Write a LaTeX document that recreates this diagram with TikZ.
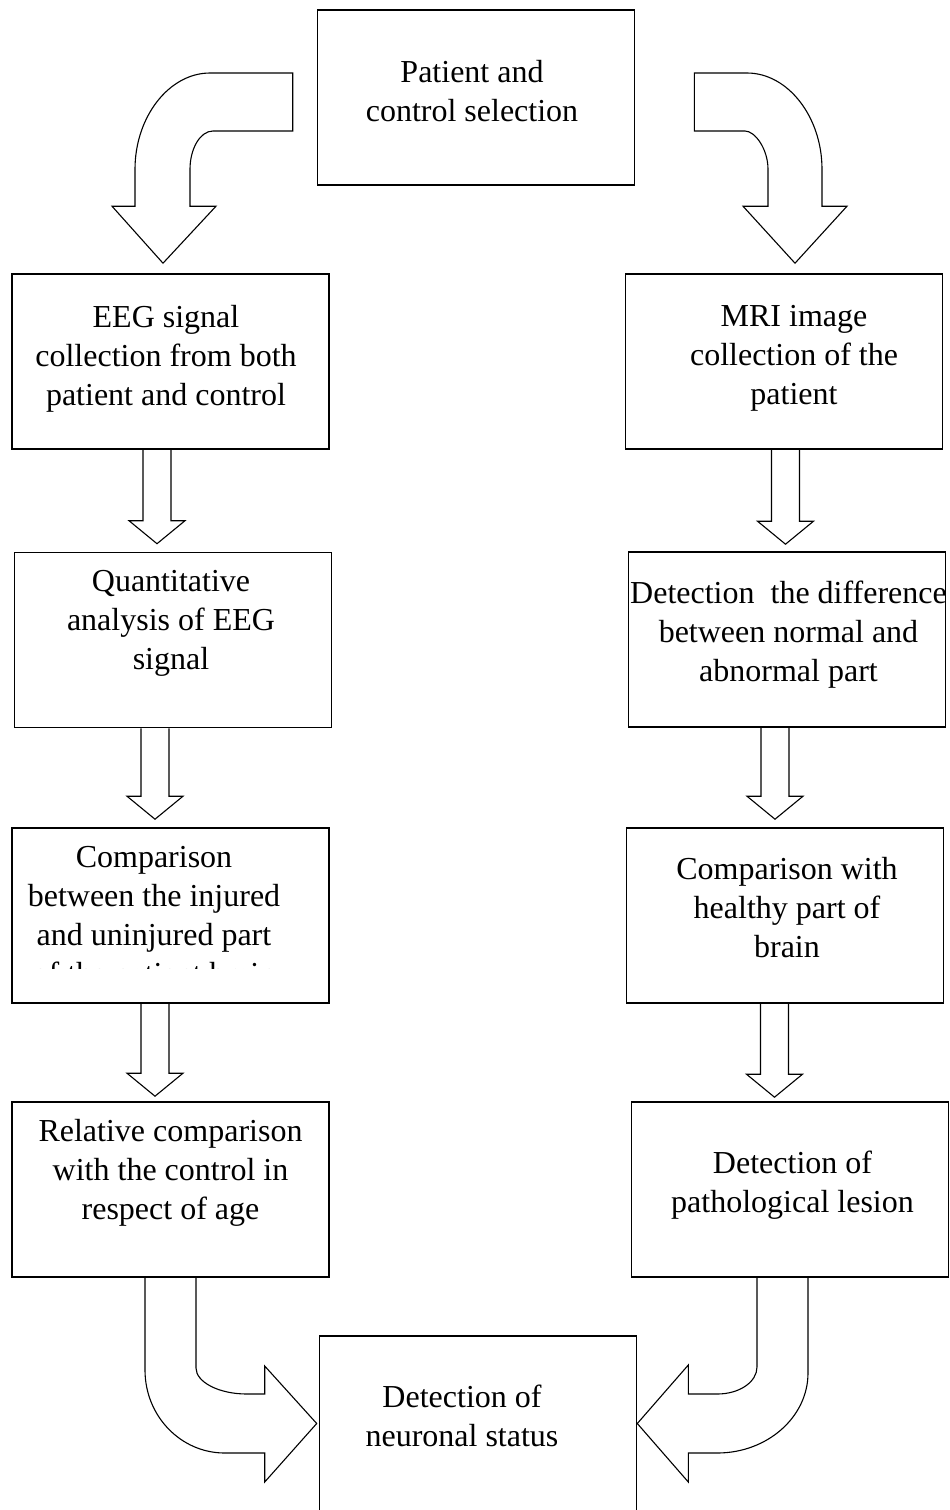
\documentclass[tikz,border=0pt]{standalone}
\usepackage{fontspec}
\setmainfont{Liberation Serif}
\usetikzlibrary{calc}

% hollow straight arrow: from, to, shaft centre x, gap above target
\newcommand{\hollowarrow}[4]{%
  \draw[fatarrow] let \p1=(#1.south), \p2=(#2.north) in
    (#3-14,\y1) -- (#3-14,\y2+#4+23) -- (#3-28,\y2+#4+23) -- (#3,\y2+#4)
    -- (#3+28,\y2+#4+23) -- (#3+14,\y2+#4+23) -- (#3+14,\y1);}

\begin{document}
\begin{tikzpicture}[x=1pt,y=1pt,
  flowbox/.style={draw,line width=1.6pt,minimum width=317pt,minimum height=175pt,inner sep=0pt},
  txt/.style={align=center,font=\fontsize{32}{39}\selectfont,inner sep=0pt},
  fatarrow/.style={line width=1.1pt,line join=miter}]
\clip (0,0) rectangle (950,-1510);
% boxes
\node[flowbox] (sel) at (476,-97.5) {};
\node[flowbox] (eeg) at (170.5,-361.5) {};
\node[flowbox] (mri) at (784,-361.5) {};
\node[flowbox] (qeeg) at (173,-640) {};
\node[flowbox] (diff) at (787,-639.5) {};
\node[flowbox] (cmpl) at (170.5,-915.5) {};
\node[flowbox] (cmpr) at (785,-915.5) {};
\node[flowbox] (rel) at (170.5,-1189.5) {};
\node[flowbox] (lesion) at (790,-1189.5) {};
\node[flowbox] (neuro) at (478,-1423.5) {};
% texts
\node[txt] (sel-t) at ($(sel.north)+(-4,-82)$) {Patient and\\control selection};
\node[txt] (eeg-t) at ($(eeg.north)+(-4.5,-86)$) {EEG signal\\collection from both\\patient and control};
\node[txt] (mri-t) at ($(mri.north)+(10,-85)$) {MRI image\\collection of the\\patient};
\node[txt] (qeeg-t) at ($(qeeg.north)+(-2,-72)$) {Quantitative\\analysis of EEG\\signal};
\node[txt] (diff-t) at ($(diff.north)+(1.5,-83)$) {Detection\ \ the difference\\between normal and\\abnormal part};
\begin{scope}
  \clip (cmpl.north west) rectangle ([yshift=-141pt]cmpl.north east);
  \node[txt] (cmpl-t) at ($(cmpl.north)+(-16.5,-92)$) {Comparison\\between the injured\\and uninjured part\\of the patient brain};
\end{scope}
\node[txt] (cmpr-t) at ($(cmpr.north)+(2,-80)$) {Comparison with\\healthy part of\\brain};
\node[txt] (rel-t) at ($(rel.north)+(0,-72)$) {Relative comparison\\with the control in\\respect of age};
\node[txt] (lesion-t) at ($(lesion.north)+(2.5,-84)$) {Detection of\\pathological lesion};
\node[txt] (neuro-t) at ($(neuro.north)+(-16,-81)$) {Detection of\\neuronal status};
% bent arrows from the top box
\draw[fatarrow] let \p1=(sel.west), \p2=(eeg.north) in
  (\x1-24,\y1+24.5) -- (\x1-24,\y1-33.5) -- (\x2+42.5,\y1-33.5)
  .. controls (\x2+29.5,\y1-33.5) and (\x2+19.5,\y1-51.5) .. (\x2+19.5,\y2+104)
  -- (\x2+19.5,\y2+67) -- (\x2+45.5,\y2+67) -- (\x2-7.5,\y2+10) -- (\x2-58.5,\y2+67)
  -- (\x2-35.5,\y2+67) -- (\x2-35.5,\y2+104)
  .. controls (\x2-35.5,\y1-19.5) and (\x2-1.5,\y1+24.5) .. (\x2+39.5,\y1+24.5) -- cycle;
\draw[fatarrow] let \p1=(sel.east), \p2=(mri.north) in
  (\x1+59,\y1+24.5) -- (\x2-37,\y1+24.5)
  .. controls (\x2+4,\y1+24.5) and (\x2+38,\y1-19.5) .. (\x2+38,\y2+104)
  -- (\x2+38,\y2+67) -- (\x2+63,\y2+67) -- (\x2+11,\y2+10) -- (\x2-41,\y2+67)
  -- (\x2-16,\y2+67) -- (\x2-16,\y2+104)
  .. controls (\x2-16,\y1-51.5) and (\x2-29,\y1-33.5) .. (\x2-39,\y1-33.5)
  -- (\x1+59,\y1-33.5) -- cycle;
% straight arrows down the columns
\hollowarrow{eeg}{qeeg}{157}{8}
\hollowarrow{qeeg}{cmpl}{155}{8}
\hollowarrow{cmpl}{rel}{155}{5}
\hollowarrow{mri}{diff}{785.5}{7}
\hollowarrow{diff}{cmpr}{775}{8}
\hollowarrow{cmpr}{lesion}{774.5}{4}
% bent arrows into the last box
\draw[fatarrow] let \p1=(rel.south), \p2=(neuro.west) in
  (\x1-25.5,\y1) -- (\x1-25.5,\y2+53.5)
  .. controls (\x1-25.5,\y2+7.5) and (\x2-138,\y2-29.5) .. (\x2-94,\y2-29.5)
  -- (\x2-54,\y2-29.5) -- (\x2-54,\y2-58.5) -- (\x2-2,\y2) -- (\x2-54,\y2+57.5)
  -- (\x2-54,\y2+29.5) -- (\x2-72,\y2+29.5)
  .. controls (\x2-100,\y2+29.5) and (\x1+25.5,\y2+41.5) .. (\x1+25.5,\y2+55.5)
  -- (\x1+25.5,\y1);
\draw[fatarrow] let \p1=(lesion.south), \p2=(neuro.east) in
  (\x1+18,\y1) -- (\x1+18,\y2+50.5)
  .. controls (\x1+18,\y2+6.5) and (\x2+130,\y2-29.5) .. (\x2+80,\y2-29.5)
  -- (\x2+51,\y2-29.5) -- (\x2+51,\y2-58.5) -- (\x2,\y2) -- (\x2+51,\y2+58.5)
  -- (\x2+51,\y2+29.5) -- (\x2+80,\y2+29.5)
  .. controls (\x2+102,\y2+29.5) and (\x1-33,\y2+41.5) .. (\x1-33,\y2+56.5)
  -- (\x1-33,\y1);
\end{tikzpicture}
\end{document}
